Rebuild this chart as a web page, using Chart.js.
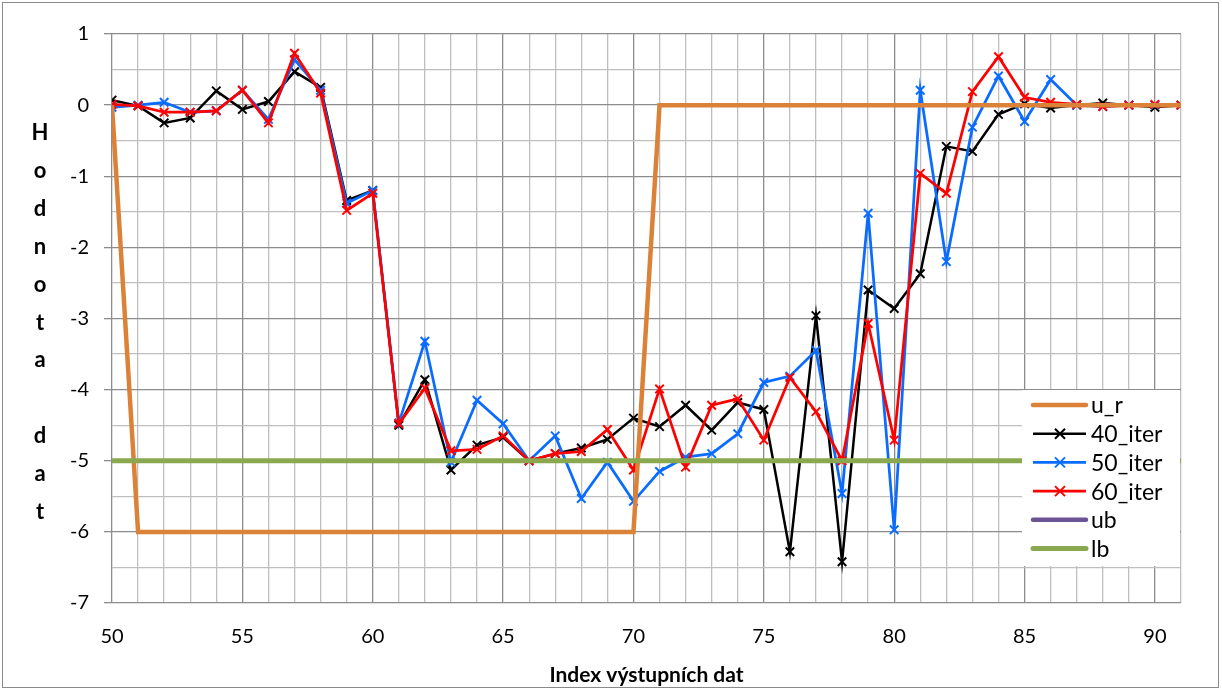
<!DOCTYPE html>
<html>
<head>
<meta charset="utf-8">
<script src="https://cdn.jsdelivr.net/npm/chart.js@4.4.1/dist/chart.umd.min.js"></script>
<style>
  html, body { margin: 0; padding: 0; background: #fff; }
  canvas { display: block; }
</style>
</head>
<body>
<canvas id="chart" width="1222" height="690"></canvas>
<script>
// x positions (index of output data)
const xIndex = [50, 51, 52, 53, 54, 55, 56, 57, 58, 59, 60, 61, 62, 63, 64, 65, 66, 67, 68, 69, 70,
  71, 72, 73, 74, 75, 76, 77, 78, 79, 80, 81, 82, 83, 84, 85, 86, 87, 88, 89, 90, 91];

const uR = [0, -6, -6, -6, -6, -6, -6, -6, -6, -6, -6, -6, -6, -6, -6, -6, -6, -6, -6, -6, -6,
  0, 0, 0, 0, 0, 0, 0, 0, 0, 0, 0, 0, 0, 0, 0, 0, 0, 0, 0, 0, 0];

const iter40 = [0.07, -0.01, -0.25, -0.18, 0.2, -0.06, 0.05, 0.47, 0.25, -1.34, -1.2, -4.5, -3.86, -5.13, -4.78, -4.67, -5.0, -4.9, -4.82, -4.7, -4.4,
  -4.52, -4.22, -4.57, -4.18, -4.28, -6.28, -2.96, -6.42, -2.6, -2.86, -2.37, -0.58, -0.65, -0.13, 0.02, -0.04, 0.0, 0.03, 0.0, -0.03, 0.0];

const iter50 = [-0.03, 0.0, 0.04, -0.1, -0.08, 0.21, -0.2, 0.64, 0.21, -1.38, -1.2, -4.47, -3.32, -5.02, -4.15, -4.48, -5.0, -4.65, -5.53, -5.02, -5.57,
  -5.15, -4.95, -4.9, -4.62, -3.9, -3.81, -3.45, -5.46, -1.52, -5.97, 0.21, -2.2, -0.31, 0.41, -0.23, 0.36, 0.0, -0.02, 0.0, 0.0, 0.0];

const iter60 = [0.01, -0.01, -0.1, -0.1, -0.08, 0.21, -0.25, 0.73, 0.17, -1.48, -1.24, -4.48, -3.98, -4.86, -4.84, -4.65, -5.0, -4.9, -4.87, -4.56, -5.13,
  -3.99, -5.09, -4.22, -4.13, -4.71, -3.83, -4.31, -5.0, -3.07, -4.71, -0.96, -1.24, 0.19, 0.68, 0.11, 0.04, 0.01, -0.02, 0.0, 0.01, 0.0];

// upper bound lies above the visible range
const ub = [5, 5, 5, 5, 5, 5, 5, 5, 5, 5, 5, 5, 5, 5, 5, 5, 5, 5, 5, 5, 5,
  5, 5, 5, 5, 5, 5, 5, 5, 5, 5, 5, 5, 5, 5, 5, 5, 5, 5, 5, 5, 5];

const lb = [-5, -5, -5, -5, -5, -5, -5, -5, -5, -5, -5, -5, -5, -5, -5, -5, -5, -5, -5, -5, -5,
  -5, -5, -5, -5, -5, -5, -5, -5, -5, -5, -5, -5, -5, -5, -5, -5, -5, -5, -5, -5, -5];

const yTitle = 'Hodnota dat';
const xTitle = 'Index výstupních dat';

const FONT = "Lato, 'Liberation Sans', sans-serif";
const GRID_MAJOR = '#8c8c8c';
const GRID_MINOR = '#bfbfbf';

function pts(values) {
  return xIndex.map((x, i) => ({ x, y: values[i] }));
}

function lineSet(label, values, color, width, marker, order) {
  return {
    label,
    data: pts(values),
    borderColor: color,
    backgroundColor: color,
    borderWidth: width,
    pointStyle: marker ? 'crossRot' : false,
    pointRadius: marker ? 6 : 0,
    pointBorderWidth: 2,
    pointBorderColor: color,
    tension: 0,
    order,
  };
}

// x tick labels (from the x scale's own ticks), x title, stacked y title
const axisText = {
  id: 'axisText',
  afterDraw(chart) {
    const ctx = chart.ctx;
    const area = chart.chartArea;
    const xs = chart.scales.x;
    ctx.save();
    ctx.fillStyle = '#000';
    ctx.textAlign = 'center';
    ctx.textBaseline = 'middle';
    ctx.font = `20px ${FONT}`;
    xs.ticks.forEach((t) => {
      if (t.value % 5 === 0 && t.value <= 90) {
        ctx.fillText(String(t.value), xs.getPixelForValue(t.value), 637);
      }
    });
    ctx.font = `bold 21px ${FONT}`;
    ctx.fillText(xTitle, (area.left + area.right) / 2, 675);
    ctx.font = `bold 22px ${FONT}`;
    [...yTitle].forEach((ch, i) => {
      if (ch !== ' ') ctx.fillText(ch, 40, 133 + i * 37.9);
    });
    ctx.restore();
  },
};

// legend box inside the plot, lower right
const boxLegend = {
  id: 'boxLegend',
  afterDatasetsDraw(chart) {
    const ctx = chart.ctx;
    const x0 = 1022, y0 = 390, w = 158, h = 176, rowH = 28.7;
    ctx.save();
    ctx.fillStyle = '#fff';
    ctx.fillRect(x0, y0, w, h);
    ctx.font = `23px ${FONT}`;
    ctx.textBaseline = 'middle';
    chart.data.datasets.forEach((ds, i) => {
      const y = y0 + 15 + i * rowH;
      ctx.strokeStyle = ds.borderColor;
      ctx.lineWidth = ds.borderWidth;
      ctx.lineCap = ds.pointStyle ? 'butt' : 'round';
      ctx.beginPath();
      ctx.moveTo(1033, y);
      ctx.lineTo(1086, y);
      ctx.stroke();
      if (ds.pointStyle) {
        ctx.lineWidth = 2;
        const r = 5;
        ctx.beginPath();
        ctx.moveTo(1060 - r, y - r); ctx.lineTo(1060 + r, y + r);
        ctx.moveTo(1060 - r, y + r); ctx.lineTo(1060 + r, y - r);
        ctx.stroke();
      }
      ctx.fillStyle = '#000';
      ctx.fillText(ds.label, 1091, y + 1);
    });
    ctx.restore();
  },
  afterDraw(chart) {
    const ctx = chart.ctx;
    ctx.save();
    ctx.strokeStyle = '#8a8a8a';
    ctx.lineWidth = 1;
    ctx.strokeRect(2.5, 2.5, 1216, 685);
    ctx.restore();
  },
};

new Chart(document.getElementById('chart'), {
  type: 'line',
  data: {
    datasets: [
      lineSet('u_r', uR, '#dc8238', 4.5, false, 1),
      lineSet('40_iter', iter40, '#000000', 2.5, true, 4),
      lineSet('50_iter', iter50, '#0a6cff', 2.75, true, 3),
      lineSet('60_iter', iter60, '#ff0000', 2.75, true, 2),
      lineSet('ub', ub, '#6b5494', 4.5, false, 5),
      lineSet('lb', lb, '#8aa84f', 5, false, 0),
    ],
  },
  options: {
    responsive: false,
    animation: false,
    devicePixelRatio: 1,
    layout: { padding: { left: 0, top: 34, right: 41, bottom: 87 } },
    plugins: {
      legend: { display: false },
      tooltip: { enabled: false },
    },
    scales: {
      x: {
        type: 'linear',
        min: 50,
        max: 91,
        border: { display: false },
        grid: {
          drawTicks: false,
          lineWidth: 1.3,
          color: (c) => (c.tick && c.tick.value % 5 === 0 ? GRID_MAJOR : GRID_MINOR),
        },
        ticks: {
          stepSize: 1,
          autoSkip: false,
          display: false,
        },
        title: { display: false },
      },
      y: {
        min: -7,
        max: 1,
        afterFit: (s) => { s.width = 112; },
        border: { display: false },
        grid: {
          lineWidth: 1.3,
          tickLength: 8,
          color: (c) => (c.tick && Number.isInteger(c.tick.value) ? GRID_MAJOR : GRID_MINOR),
          tickColor: (c) => (c.tick && Number.isInteger(c.tick.value) ? GRID_MAJOR : 'rgba(0,0,0,0)'),
        },
        ticks: {
          stepSize: 0.5,
          autoSkip: false,
          padding: 15,
          color: '#000',
          font: { family: FONT, size: 20 },
          callback: (v) => (Number.isInteger(v) ? String(v) : ''),
        },
      },
    },
  },
  plugins: [axisText, boxLegend],
});
</script>
</body>
</html>
